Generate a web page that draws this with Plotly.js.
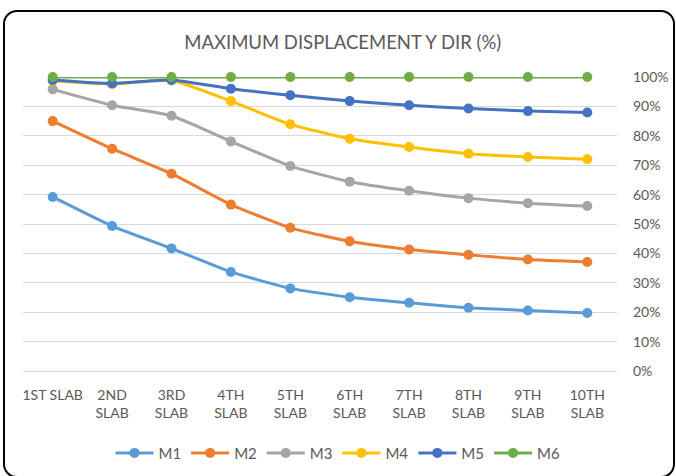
<!DOCTYPE html>
<html>
<head>
<meta charset="utf-8">
<script src="https://cdn.plot.ly/plotly-3.0.1.min.js"></script>
<style>
  html, body { margin: 0; padding: 0; background: #fff; }
  #wrap { position: relative; width: 676px; height: 476px; overflow: hidden; }
  #chart { position: absolute; left: 0; top: 0; width: 676px; height: 476px; }
  #frame {
    position: absolute; left: 3px; top: 10px; width: 668px; height: 464px;
    border: 2px solid #000; border-radius: 14px; pointer-events: none;
  }
</style>
</head>
<body>
<div id="wrap">
  <div id="chart"></div>
  <div id="frame"></div>
</div>
<script>
// Slab levels along the x axis
const slabs = ["1ST SLAB", "2ND<br>SLAB", "3RD<br>SLAB", "4TH<br>SLAB", "5TH<br>SLAB",
               "6TH<br>SLAB", "7TH<br>SLAB", "8TH<br>SLAB", "9TH<br>SLAB", "10TH<br>SLAB"];

// Maximum displacement in Y direction, as a fraction
const m1 = [0.592, 0.493, 0.417, 0.337, 0.281, 0.251, 0.232, 0.215, 0.206, 0.197];
const m2 = [0.850, 0.756, 0.671, 0.566, 0.487, 0.441, 0.413, 0.395, 0.379, 0.371];
const m3 = [0.958, 0.904, 0.868, 0.781, 0.697, 0.644, 0.613, 0.588, 0.571, 0.561];
const m4 = [0.987, 0.976, 0.988, 0.918, 0.839, 0.790, 0.762, 0.739, 0.728, 0.720];
const m5 = [0.990, 0.978, 0.990, 0.960, 0.938, 0.918, 0.904, 0.893, 0.884, 0.879];
const m6 = [1.000, 1.000, 1.000, 1.000, 1.000, 1.000, 1.000, 1.000, 1.000, 1.000];

const seriesNames = ["M1", "M2", "M3", "M4", "M5", "M6"];
const seriesValues = [m1, m2, m3, m4, m5, m6];
const seriesColors = ["#5B9BD5", "#ED7D31", "#A5A5A5", "#FFC000", "#4472C4", "#70AD47"];

const FONT = "Lato, 'Open Sans', sans-serif";

const traces = seriesNames.map((name, i) => ({
  type: "scatter",
  mode: "lines+markers",
  name: name,
  x: slabs,
  y: seriesValues[i],
  line: { color: seriesColors[i], width: 3, shape: "spline", smoothing: 0.5 },
  marker: { color: seriesColors[i], size: 10 },
  cliponaxis: false
}));

const layout = {
  width: 676,
  height: 476,
  paper_bgcolor: "#fff",
  plot_bgcolor: "#fff",
  margin: { l: 23, r: 59, t: 77, b: 105 },
  title: {
    text: "MAXIMUM DISPLACEMENT Y DIR (%)",
    font: { family: FONT, size: 18.5, color: "#595959" },
    x: 0.507, xanchor: "center",
    y: 0.911, yref: "container", yanchor: "middle"
  },
  xaxis: {
    type: "category",
    range: [-0.5, 9.5],
    showgrid: false,
    zeroline: false,
    showline: false,
    ticks: "",
    tickfont: { family: FONT, size: 14, color: "#595959" },
    ticklabelstandoff: 14
  },
  yaxis: {
    side: "right",
    range: [0, 1],
    dtick: 0.1,
    tickformat: ".0%",
    showgrid: true,
    gridcolor: "#D9D9D9",
    gridwidth: 1,
    zeroline: true,
    zerolinecolor: "#D9D9D9",
    zerolinewidth: 1,
    showline: false,
    ticks: "",
    tickfont: { family: FONT, size: 14, color: "#595959" },
    ticklabelstandoff: 15
  },
  showlegend: true,
  legend: {
    orientation: "h",
    x: 0.5, xanchor: "center", xref: "container",
    y: 0.048, yanchor: "middle", yref: "container",
    font: { family: FONT, size: 15, color: "#595959" },
    itemwidth: 38,
    tracegroupgap: 0
  }
};

Plotly.newPlot("chart", traces, layout, { displayModeBar: false, staticPlot: true });
</script>
</body>
</html>
